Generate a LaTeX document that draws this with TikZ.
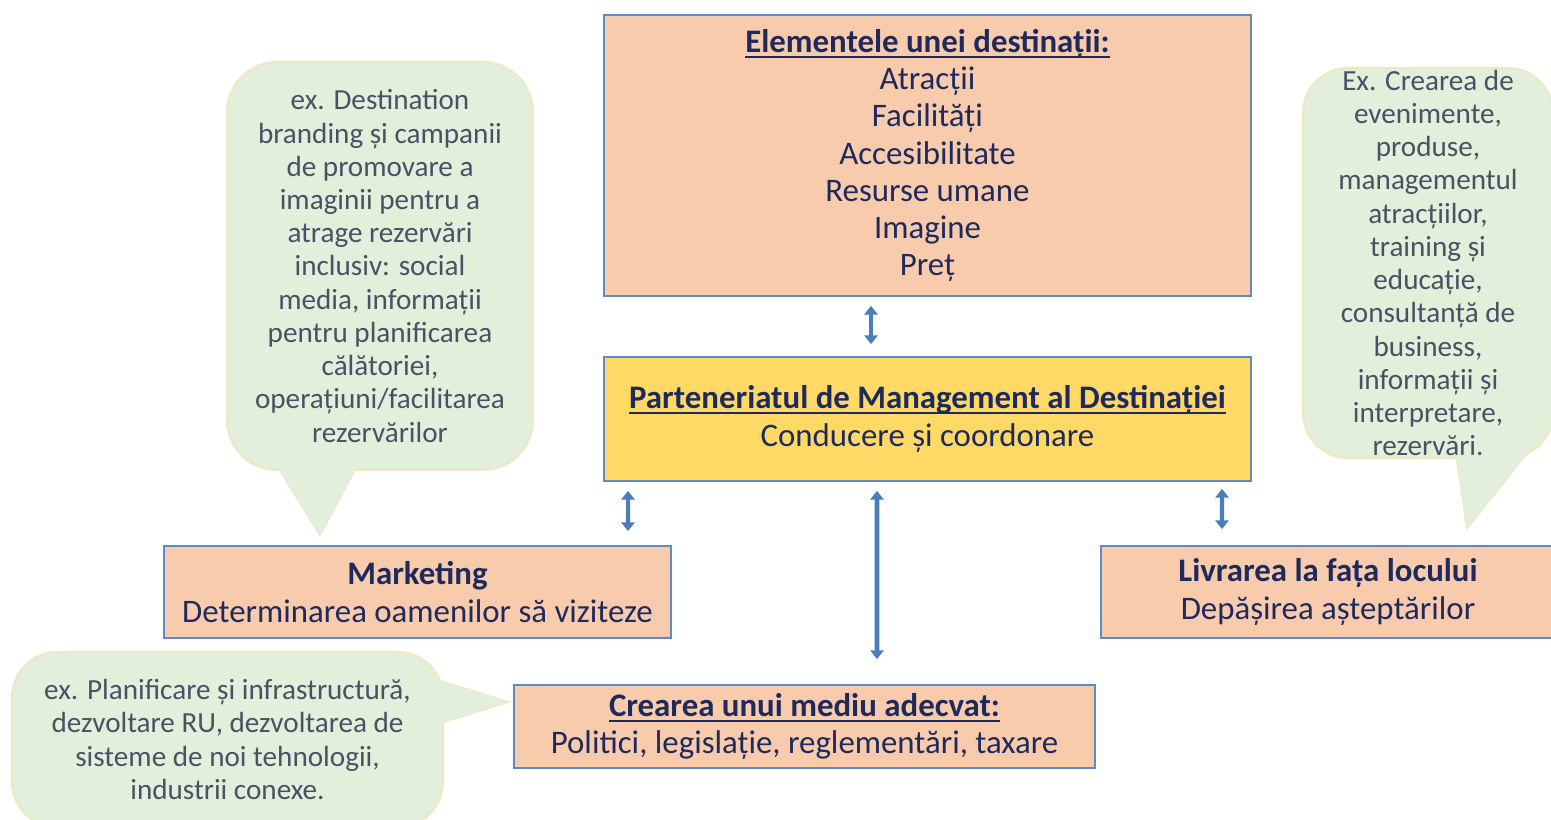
\documentclass[tikz,border=0pt]{standalone}
\usepackage{fontspec}
\setmainfont{Carlito}
\usetikzlibrary{arrows.meta}
\definecolor{salmon}{RGB}{248,203,173}
\definecolor{yellowfill}{RGB}{255,217,102}
\definecolor{greenfill}{RGB}{226,239,218}
\definecolor{greenborder}{RGB}{240,232,196}
\definecolor{boxborder}{RGB}{96,138,196}
\definecolor{arrowblue}{RGB}{74,126,187}
\definecolor{navy}{RGB}{31,42,92}
\definecolor{calltext}{RGB}{72,82,102}
\newcommand\myul[1]{\setbox0\hbox{#1}\rlap{\rule[-3pt]{\wd0}{1.1pt}}\box0}
\tikzset{
  box/.style={draw=boxborder, line width=1pt, fill=salmon, text=navy, align=center,
    inner sep=0pt, font={\fontsize{18.7}{21.2}\selectfont}},
  callout/.style={draw=greenborder, line width=1.2pt, fill=greenfill, text=calltext,
    align=center, inner sep=0pt, font={\fontsize{16.6}{18.9}\selectfont}},
  tailfill/.style={fill=greenfill},
  tailline/.style={draw=greenborder, line width=1.2pt, fill=greenfill},
  arr/.style={draw=arrowblue, line width=2.3pt,
    {Triangle[length=5pt,width=7.5pt]}-{Triangle[length=5pt,width=7.5pt]}}
}
\begin{document}
\begin{tikzpicture}[x=0.02cm,y=-0.02cm]
\useasboundingbox (0,0) rectangle (1551,820);
\clip (0,0) rectangle (1551,820);
\fill[white] (0,0) rectangle (1551,820);

% callout 1 (left top)
\path[tailline] (275,462) -- (320,535) -- (359,462) -- cycle;
\node[callout, minimum width=6.12cm, minimum height=8.16cm, rounded corners=1cm] (c1) at (380,266)
  {ex. Destination\\branding și campanii\\de promovare a\\imaginii pentru a\\atrage rezervări\\inclusiv: social\\media, informații\\pentru planificarea\\călătoriei,\\operațiuni/facilitarea\\rezervărilor};
\path[tailfill] (275,462) -- (320,535) -- (359,462) -- cycle;

% callout 2 (right)
\path[tailline] (1456.5,455) -- (1467,528) -- (1525.5,455) -- cycle;
\node[callout, minimum width=5cm, minimum height=7.8cm, rounded corners=0.9cm] (c2) at (1428,263)
  {Ex. Crearea de\\evenimente,\\produse,\\managementul\\atracțiilor,\\training și\\educație,\\consultanță de\\business,\\informații și\\interpretare,\\rezervări.};
\path[tailfill] (1456.5,455) -- (1467,528) -- (1525.5,455) -- cycle;

% callout 3 (bottom left)
\path[tailline] (435,679.5) -- (508,702) -- (435,724.5) -- cycle;
\node[callout, minimum width=8.62cm, minimum height=3.5cm, rounded corners=0.9cm] (c3) at (227.5,739.5)
  {ex. Planificare și infrastructură,\\dezvoltare RU, dezvoltarea de\\sisteme de noi tehnologii,\\industrii conexe.};
\path[tailfill] (435,679.5) -- (508,702) -- (435,724.5) -- cycle;

% boxes
\node[box, minimum width=12.94cm, minimum height=5.62cm] (elem) at (927.5,155.5)
  {{\bfseries\myul{Elementele unei destinații:}}\\Atracții\\Facilități\\Accesibilitate\\Resurse umane\\Imagine\\Preț};
\node[box, fill=yellowfill, minimum width=12.94cm, minimum height=2.48cm] (dmp) at (927.5,419)
  {{\bfseries\myul{Parteneriatul de Management al Destinației}}\\Conducere și coordonare};
\node[box, minimum width=10.14cm, minimum height=1.84cm] (mkt) at (417.5,592)
  {\textbf{Marketing}\\Determinarea oamenilor să viziteze};
\node[box, minimum width=9.08cm, minimum height=1.84cm] (liv) at (1328,592)
  {\textbf{Livrarea la fața locului}\\Depășirea așteptărilor};
\node[box, minimum width=11.62cm, minimum height=1.66cm] (cre) at (804.5,726.5)
  {{\bfseries\myul{Crearea unui mediu adecvat:}}\\Politici, legislație, reglementări, taxare};

% arrows
\draw[arr, shorten <=0.18cm, shorten >=0.24cm] ([xshift=-1.13cm]elem.south) -- ([xshift=-1.13cm]dmp.north);
\draw[arr, shorten <=0.18cm, shorten >=0.28cm] ([xshift=-5.99cm]dmp.south) -- ([xshift=4.21cm]mkt.north);
\draw[arr, line width=2.8pt, shorten <=0.18cm, shorten >=0.5cm] ([xshift=-1.01cm]dmp.south) -- ([xshift=1.45cm]cre.north);
\draw[arr, shorten <=0.14cm, shorten >=0.32cm] ([xshift=5.89cm]dmp.south) -- ([xshift=-2.12cm]liv.north);
\end{tikzpicture}
\end{document}
